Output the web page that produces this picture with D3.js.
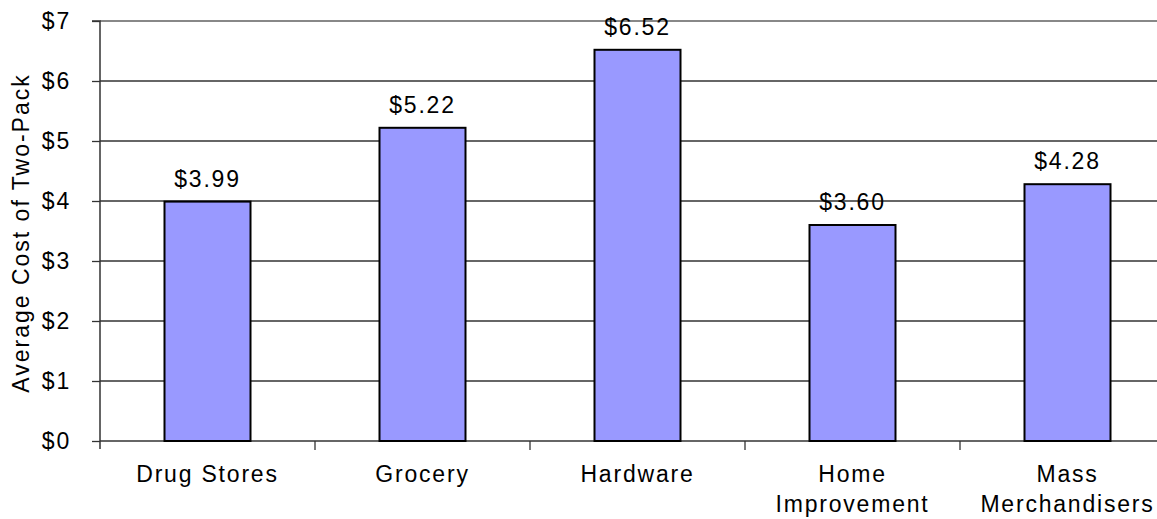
<!DOCTYPE html>
<html><head><meta charset="utf-8">
<script src="https://d3js.org/d3.v7.min.js"></script>
<style>body{margin:0;background:#fff}svg{display:block}text{font-family:"Liberation Sans",Arial,sans-serif;fill:#000}</style>
</head><body>
<script>
const categories = [["Drug Stores"],["Grocery"],["Hardware"],["Home","Improvement"],["Mass","Merchandisers"]];
const values = [3.99, 5.22, 6.52, 3.60, 4.28];
const valueLabels = ["$3.99","$5.22","$6.52","$3.60","$4.28"];
const yTicks = [0,1,2,3,4,5,6,7];
const yTitle = "Average Cost of Two-Pack";

const W=1157,H=519;
const FS="23px", LS="1.8px";
const svg=d3.select("body").append("svg").attr("width",W).attr("height",H);
const x0=100, plotRight=1175, yTop=21, yBot=441;
const keys=categories.map((c,i)=>i);
const x=d3.scaleBand().domain(keys).range([x0,plotRight]).paddingInner(0.6).paddingOuter(0.3);
const y=d3.scaleLinear().domain([0,7]).range([yBot,yTop]);

// gridlines
svg.append("g").selectAll("line").data(yTicks).join("line")
 .attr("x1",x0).attr("x2",W).attr("y1",d=>y(d)).attr("y2",d=>y(d))
 .attr("stroke",d=>d===7?"#888":"#333").attr("stroke-width",d=>d===7?2:1.3);

// y axis
const ya=svg.append("g").attr("transform",`translate(${x0},0)`).call(d3.axisLeft(y).tickValues(yTicks).tickFormat(d=>"$"+d).tickSize(8).tickPadding(21));
ya.select(".domain").attr("stroke","#333").attr("stroke-width",1.5).attr("d",`M-8,${yTop}H0V${yBot+8}`);
ya.selectAll(".tick line").attr("stroke","#333").attr("stroke-width",1.3);
ya.selectAll(".tick text").style("font-size",FS).style("letter-spacing",LS).attr("fill","#000");

// x axis ticks (between categories)
const step=x.step();
const bounds=d3.range(0,categories.length+1).map(i=>x0+i*step);
svg.append("g").selectAll("line").data(bounds.slice(1)).join("line")
 .attr("x1",d=>d).attr("x2",d=>d).attr("y1",yBot).attr("y2",yBot+9).attr("stroke","#333").attr("stroke-width",1.3);

// bars
svg.append("g").selectAll("rect").data(values).join("rect")
 .attr("x",(d,i)=>x(i)).attr("width",x.bandwidth())
 .attr("y",d=>y(d)).attr("height",d=>yBot-y(d))
 .attr("fill","#9999ff").attr("stroke","#000").attr("stroke-width",2);

// value labels
svg.append("g").selectAll("text").data(values).join("text")
 .attr("x",(d,i)=>x(i)+x.bandwidth()/2).attr("y",d=>y(d)-15)
 .attr("text-anchor","middle").style("font-size",FS).style("letter-spacing",LS).text((d,i)=>valueLabels[i]);

// category labels
const cl=svg.append("g").selectAll("text").data(categories).join("text")
 .attr("x",(d,i)=>x(i)+x.bandwidth()/2).attr("y",482)
 .attr("text-anchor","middle").style("font-size",FS).style("letter-spacing",LS);
cl.selectAll("tspan").data(d=>d).join("tspan")
 .attr("x",function(){return this.parentNode.getAttribute("x");})
 .attr("dy",(d,i)=>i===0?0:30).text(d=>d);

// y title
svg.append("text").attr("transform",`translate(29,233) rotate(-90)`)
 .attr("text-anchor","middle").style("font-size",FS).style("letter-spacing","2px").text(yTitle);
</script>
</body></html>
